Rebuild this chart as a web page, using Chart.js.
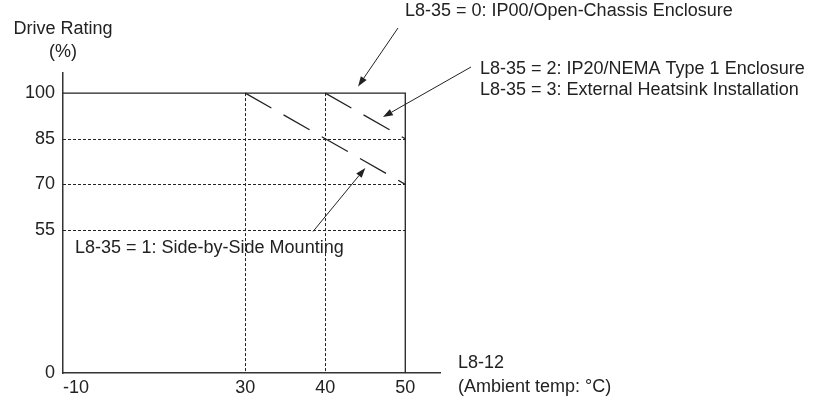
<!DOCTYPE html>
<html>
<head>
<meta charset="utf-8">
<script src="https://cdn.jsdelivr.net/npm/chart.js@4/dist/chart.umd.min.js"></script>
<style>
    html, body { margin: 0; padding: 0; background: #fff; }
    #wrap { width: 815px; height: 400px; position: relative; }
</style>
</head>
<body>
<div id="wrap"><canvas id="derating"></canvas></div>
<script>
// values
const xTicks = [-10, 30, 40, 50];
const yTicks = [0, 55, 70, 85, 100];
const guideX = [30, 40];
const guideY = [55, 70, 85];

const ip00Temp = [-10, 50, 50];
const ip00Rating = [100, 100, 0];
const ip20Temp = [40, 50];
const ip20Rating = [100, 85];
const sideTemp = [30, 50];
const sideRating = [100, 70];

const INK = '#222';
const FONT = "'Liberation Sans', Arial, sans-serif";

// both axes are broken in the source drawing, so each scale gets knots: [value, fraction of axis]
const scaleKnots = {
    x: [[-10, 0], [30, 0.4836], [54.34, 1]],
    y: [[0, 0], [55, 0.4767], [106.6, 1]],
};

class PiecewiseScale extends Chart.LinearScale {
    toDecimal(value) {
        const knots = scaleKnots[this.id];
        for (let i = 1; i < knots.length; i++) {
            const [v0, d0] = knots[i - 1];
            const [v1, d1] = knots[i];
            if (value <= v1 || i === knots.length - 1) return d0 + (value - v0) / (v1 - v0) * (d1 - d0);
        }
        return 0;
    }
    getPixelForValue(value) {
        if (value === null || value === undefined || isNaN(value)) return NaN;
        return this.getPixelForDecimal(this.toDecimal(value));
    }
    getValueForPixel(pixel) {
        const d = this.getDecimalForPixel(pixel);
        const knots = scaleKnots[this.id];
        for (let i = 1; i < knots.length; i++) {
            const [v0, d0] = knots[i - 1];
            const [v1, d1] = knots[i];
            if (d <= d1 || i === knots.length - 1) return v0 + (d - d0) / (d1 - d0) * (v1 - v0);
        }
        return 0;
    }
}
PiecewiseScale.id = 'piecewise';
PiecewiseScale.defaults = {};
Chart.register(PiecewiseScale);

function toPoints(xs, ys) {
    return xs.map((x, i) => ({ x, y: ys[i] }));
}

const guidePlugin = {
    id: 'guides',
    beforeDatasetsDraw(chart) {
        const { ctx, scales: { x, y } } = chart;
        ctx.save();
        ctx.strokeStyle = INK;
        ctx.lineWidth = 1;
        ctx.setLineDash([3, 2]);
        guideX.forEach((v) => {
            const px = Math.round(x.getPixelForValue(v)) + 0.5;
            ctx.beginPath();
            ctx.moveTo(px, y.getPixelForValue(100));
            ctx.lineTo(px, y.getPixelForValue(0));
            ctx.stroke();
        });
        guideY.forEach((v) => {
            const py = Math.round(y.getPixelForValue(v)) + 0.5;
            ctx.beginPath();
            ctx.moveTo(x.getPixelForValue(-10), py);
            ctx.lineTo(x.getPixelForValue(50), py);
            ctx.stroke();
        });
        ctx.restore();
    },
};

const notes = [
    { text: 'Drive Rating', x: 63, y: 34, align: 'center' },
    { text: '(%)', x: 63, y: 56.5, align: 'center' },
    { text: 'L8-35 = 0: IP00/Open-Chassis Enclosure', x: 405, y: 16, align: 'left' },
    { text: 'L8-35 = 2: IP20/NEMA Type 1 Enclosure', x: 480, y: 73.5, align: 'left' },
    { text: 'L8-35 = 3: External Heatsink Installation', x: 480, y: 95, align: 'left' },
    { text: 'L8-35 = 1: Side-by-Side Mounting', x: 75, y: 253, align: 'left' },
    { text: 'L8-12', x: 458, y: 368, align: 'left' },
    { text: '(Ambient temp: \u00B0C)', x: 458, y: 392, align: 'left' },
];

// arrow tails sit next to the text, tips point at the curves (data units)
const arrows = [
    { from: [398, 28], to: [44.1, 102.2] },
    { from: [471, 67], to: [47.2, 92.1] },
    { from: [313, 231.5], to: [45, 75.4] },
];

const notePlugin = {
    id: 'notes',
    afterDraw(chart) {
        const { ctx, scales: { x, y } } = chart;
        ctx.save();
        ctx.fillStyle = INK;
        ctx.font = `18px ${FONT}`;
        ctx.textBaseline = 'alphabetic';
        notes.forEach((n) => {
            ctx.textAlign = n.align;
            ctx.fillText(n.text, n.x, n.y);
        });

        ctx.strokeStyle = INK;
        ctx.lineWidth = 1;
        arrows.forEach((a) => {
            const [x0, y0] = a.from;
            const x1 = x.getPixelForValue(a.to[0]);
            const y1 = y.getPixelForValue(a.to[1]);
            const ang = Math.atan2(y1 - y0, x1 - x0);
            const len = 10;
            const half = 3.5;
            const bx = x1 - len * Math.cos(ang);
            const by = y1 - len * Math.sin(ang);
            ctx.beginPath();
            ctx.moveTo(x0, y0);
            ctx.lineTo(bx, by);
            ctx.stroke();
            ctx.beginPath();
            ctx.moveTo(x1, y1);
            ctx.lineTo(bx + half * Math.sin(ang), by - half * Math.cos(ang));
            ctx.lineTo(bx - half * Math.sin(ang), by + half * Math.cos(ang));
            ctx.closePath();
            ctx.fill();
        });
        ctx.restore();
    },
};

const lineStyle = {
    borderColor: INK,
    borderWidth: 1.3,
    pointRadius: 0,
    fill: false,
    tension: 0,
};

new Chart(document.getElementById('derating'), {
    type: 'line',
    data: {
        datasets: [
            { label: 'L8-35 = 0', data: toPoints(ip00Temp, ip00Rating), ...lineStyle },
            { label: 'L8-35 = 2/3', data: toPoints(ip20Temp, ip20Rating), ...lineStyle, borderDash: [30, 14] },
            { label: 'L8-35 = 1', data: toPoints(sideTemp, sideRating), ...lineStyle, borderDash: [30, 14] },
        ],
    },
    options: {
        responsive: true,
        maintainAspectRatio: false,
        animation: false,
        events: [],
        layout: { padding: { top: 73, right: 375, left: 0, bottom: 0 } },
        plugins: {
            legend: { display: false },
            tooltip: { enabled: false },
        },
        scales: {
            x: {
                type: 'piecewise',
                min: -10,
                max: 54.34,
                afterBuildTicks: (scale) => {
                    // blank end tick so that 'inner' keeps the last real label centred
                    scale.ticks = xTicks.map((v) => ({ value: v })).concat([{ value: 54.34 }]);
                },
                afterFit: (scale) => { scale.height = 27; },
                grid: { display: false, drawTicks: false },
                border: { display: true, color: '#333', width: 1.5 },
                ticks: {
                    align: 'inner',
                    maxRotation: 0,
                    autoSkip: false,
                    padding: 4,
                    color: INK,
                    font: { size: 18, family: FONT },
                    callback: (v) => (xTicks.includes(v) ? String(v) : ''),
                },
            },
            y: {
                type: 'piecewise',
                min: 0,
                max: 106.6,
                afterBuildTicks: (scale) => {
                    scale.ticks = yTicks.map((v) => ({ value: v }));
                },
                afterFit: (scale) => { scale.width = 63; },
                grid: { display: false, drawTicks: false },
                border: { display: true, color: '#333', width: 1.5 },
                ticks: {
                    autoSkip: false,
                    padding: 8,
                    color: INK,
                    font: { size: 18, family: FONT },
                    callback: (v) => String(v),
                },
            },
        },
    },
    plugins: [guidePlugin, notePlugin],
});
</script>
</body>
</html>
